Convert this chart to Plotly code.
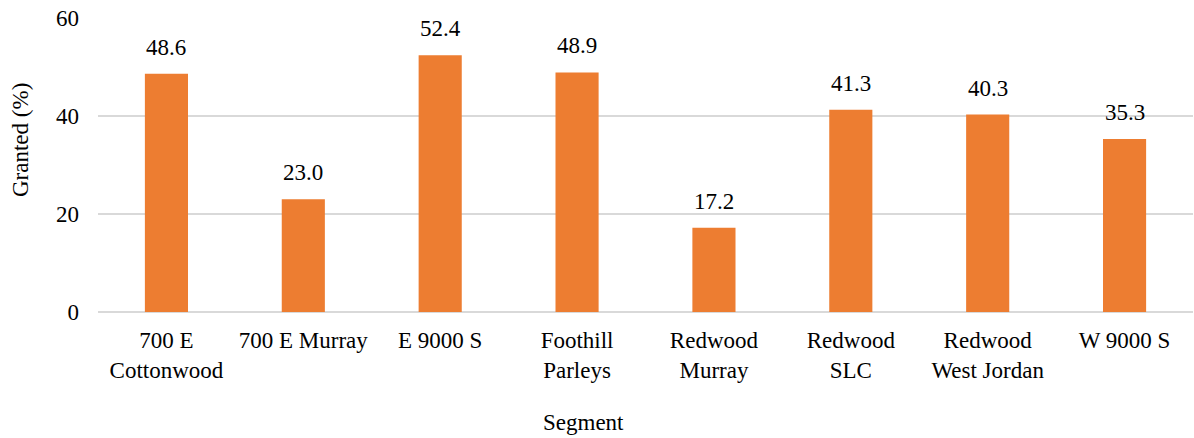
import plotly.graph_objects as go

categories = ["700 E<br>Cottonwood", "700 E Murray", "E 9000 S", "Foothill<br>Parleys",
              "Redwood<br>Murray", "Redwood<br>SLC", "Redwood<br>West Jordan", "W 9000 S"]
granted = [48.6, 23.0, 52.4, 48.9, 17.2, 41.3, 40.3, 35.3]
y_ticks = [0, 20, 40, 60]

W, H = 1194, 438
L, R, T, B = 98, 1, 18, 126
pw, ph = W - L - R, H - T - B

FONT = "'Liberation Serif', 'Times New Roman', Times, serif"
FS = 23
tf = dict(family=FONT, size=FS, color="#000000")

fig = go.Figure(go.Bar(
    x=categories, y=granted,
    marker=dict(color="#ED7D31", line=dict(width=0)),
    cliponaxis=False,
))

annotations = [
    dict(x=c, y=v, text=f"{v:.1f}", xref="x", yref="y", yanchor="bottom",
         yshift=12, showarrow=False, font=tf)
    for c, v in zip(categories, granted)
]
annotations += [
    dict(text="Granted (%)", xref="paper", yref="paper",
         x=(20 - L) / pw, y=(H - B - 140) / ph, textangle=-90,
         xanchor="center", yanchor="middle", showarrow=False, font=tf),
    dict(text="Segment", xref="paper", yref="paper",
         x=(583 - L) / pw, y=(H - B - 422) / ph,
         xanchor="center", yanchor="middle", showarrow=False, font=tf),
]

fig.update_layout(
    width=W, height=H,
    margin=dict(l=L, r=R, t=T, b=B),
    paper_bgcolor="white", plot_bgcolor="white",
    bargap=0.685,
    showlegend=False,
    font=tf,
    xaxis=dict(showgrid=False, showline=False, zeroline=False, ticks="",
               ticklabelstandoff=12, tickfont=tf),
    yaxis=dict(range=[0, 60], tickvals=y_ticks, showgrid=True, gridcolor="#D9D9D9",
               gridwidth=1.5, zeroline=True, zerolinecolor="#D9D9D9", zerolinewidth=1.5,
               showline=False, ticks="", ticklabelstandoff=18, tickfont=tf),
    annotations=annotations,
)

fig.write_html("out.html")
